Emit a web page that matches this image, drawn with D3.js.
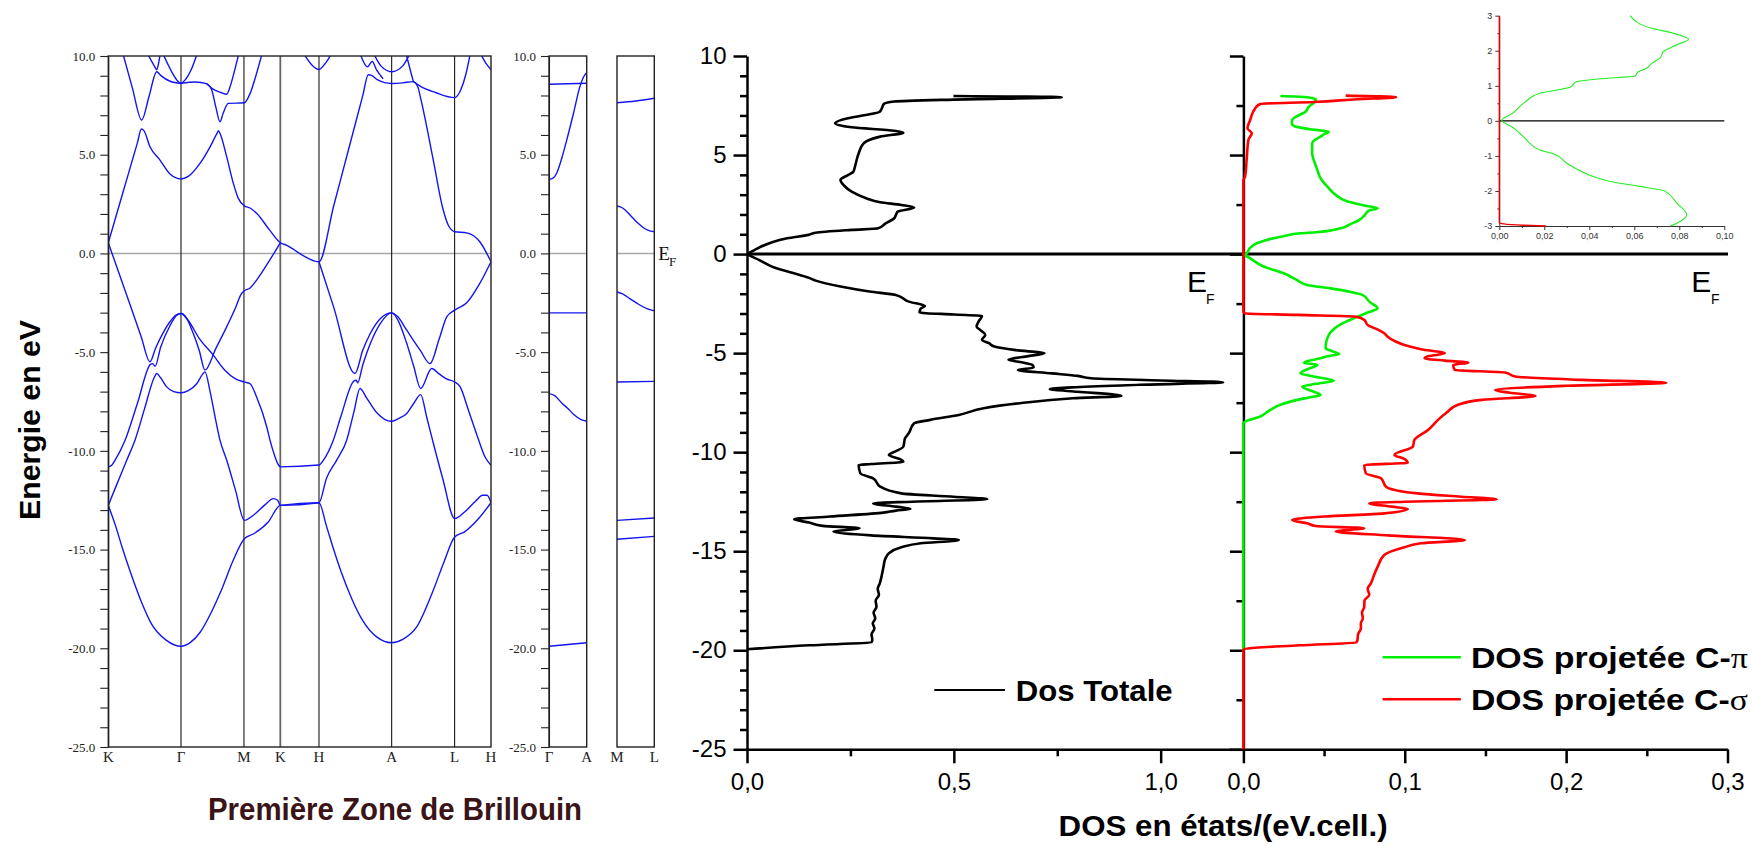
<!DOCTYPE html>
<html><head><meta charset="utf-8">
<script src="https://cdn.jsdelivr.net/npm/d3@7"></script>
<style>body{margin:0;background:#fff}svg{display:block}</style>
</head><body>
<svg id="c" width="1756" height="846"></svg>
<script>
// ================= DATA =================
const kLabels = ["K","Γ","M","K","H","A","L","H"];
const kPos = [0,1,1.866,2.366,2.898,3.898,4.764,5.264];
const gaLabels = ["Γ","A"];
const mlLabels = ["M","L"];
const bandTickValues = d3.range(-25, 10.5, 1);

// bands along K-Γ-M-K-H-A-L-H : [k, E(eV)]
const bandsMain = [
 [[0,0.54],[0.2,3.07],[0.4,5.6],[0.455,6.3],[0.49,6.22],[0.573,5.4],[0.711,4.73],[0.849,4.02],[1.0,3.77],[1.1,3.9],[1.261,4.56],[1.4,5.4],[1.5,6.12],[1.515,6.22],[1.54,6.05],[1.628,4.9],[1.72,3.55],[1.788,2.79],[1.871,2.41],[1.95,2.3],[2.04,2.03],[2.22,1.18],[2.366,0.54],[2.45,0.42],[2.55,0.2],[2.63,0.0],[2.75,-0.25],[2.85,-0.4],[2.898,-0.42],[3.1,2.4],[3.3,5.2],[3.5,7.99],[3.576,9.05],[3.62,9.02],[3.7,8.8],[3.8,8.65],[3.898,8.61],[4.05,8.64],[4.195,8.7],[4.26,8.4],[4.3,7.8],[4.47,4.73],[4.6,2.3],[4.68,1.4],[4.764,1.1],[4.93,1.04],[5.11,0.59],[5.264,-0.42]],
 [[0,0.54],[0.29,-2.5],[0.45,-4.19],[0.574,-5.49],[0.65,-4.8],[0.75,-4.05],[0.85,-3.45],[0.93,-3.12],[1.0,-3.04],[1.08,-3.3],[1.169,-4.06],[1.25,-4.9],[1.33,-5.91],[1.48,-4.81],[1.628,-3.72],[1.75,-2.75],[1.83,-2.05],[1.871,-1.89],[1.95,-1.75],[2.04,-1.35],[2.22,-0.34],[2.366,0.54]],
 [[0,-10.81],[0.05,-10.72],[0.092,-10.48],[0.231,-9.46],[0.4,-7.6],[0.58,-5.62],[0.61,-5.58],[0.643,-5.72],[0.72,-4.75],[0.85,-3.65],[0.93,-3.17],[1.0,-3.04],[1.1,-3.4],[1.25,-4.3],[1.444,-5.15],[1.6,-5.9],[1.75,-6.35],[1.871,-6.51],[1.95,-6.6],[2.04,-7.27],[2.18,-8.79],[2.224,-9.46],[2.293,-10.3],[2.33,-10.65],[2.366,-10.81],[2.898,-10.72],[2.957,-10.48],[3.095,-9.46],[3.2,-8.25],[3.38,-6.45],[3.41,-6.42],[3.43,-6.55],[3.5,-5.65],[3.6,-4.6],[3.75,-3.5],[3.898,-3.01],[3.98,-3.35],[4.1,-4.5],[4.2,-5.7],[4.297,-6.84],[4.448,-5.83],[4.55,-6.1],[4.65,-6.35],[4.764,-6.51],[4.84,-6.76],[4.95,-7.9],[5.08,-9.3],[5.18,-10.3],[5.264,-10.73]],
 [[0,-12.76],[0.1,-11.85],[0.253,-10.48],[0.367,-9.46],[0.5,-7.85],[0.63,-6.3],[0.666,-6.08],[0.72,-6.3],[0.803,-6.76],[0.9,-7.0],[1.0,-7.06],[1.1,-6.95],[1.216,-6.6],[1.3,-6.1],[1.33,-6.0],[1.4,-7.0],[1.47,-8.3],[1.536,-9.46],[1.629,-10.48],[1.75,-12.0],[1.871,-13.52],[2.0,-13.25],[2.15,-12.75],[2.27,-12.42],[2.33,-12.5],[2.366,-12.76],[2.898,-12.63],[3.0,-11.4],[3.14,-10.48],[3.279,-9.46],[3.38,-8.0],[3.462,-6.84],[3.55,-7.3],[3.7,-8.1],[3.8,-8.4],[3.898,-8.5],[4.0,-8.35],[4.105,-8.11],[4.2,-7.6],[4.297,-7.15],[4.38,-8.3],[4.47,-9.6],[4.6,-11.4],[4.764,-13.43],[4.9,-13.1],[5.05,-12.55],[5.15,-12.25],[5.21,-12.25],[5.264,-12.63]],
 [[0,-12.76],[0.1,-13.8],[0.2,-15.0],[0.3,-16.1],[0.45,-17.6],[0.6,-18.8],[0.8,-19.6],[1.0,-19.9],[1.13,-19.7],[1.261,-19.2],[1.4,-18.3],[1.55,-17.1],[1.72,-15.53],[1.871,-14.45],[2.0,-14.2],[2.2,-13.6],[2.366,-12.76],[2.898,-12.63],[3.0,-13.8],[3.1,-15.0],[3.2,-16.1],[3.35,-17.5],[3.5,-18.6],[3.7,-19.45],[3.898,-19.72],[4.05,-19.55],[4.242,-18.92],[4.47,-17.06],[4.62,-15.6],[4.764,-14.36],[4.9,-14.1],[5.1,-13.4],[5.264,-12.63]],
 [[0.206,10.05],[0.33,8.4],[0.459,6.76],[0.56,7.95],[0.666,9.2],[0.72,9.02],[0.85,8.72],[1.0,8.61]],
 [[0.55,10.05],[0.64,9.45],[0.666,9.3],[0.69,9.6],[0.711,10.05]],
 [[0.76,10.05],[0.88,9.15],[0.95,8.75],[1.0,8.62],[1.06,8.8],[1.14,9.3],[1.216,10.05]],
 [[1.0,8.62],[1.2,8.68],[1.35,8.6],[1.43,8.35],[1.55,8.15],[1.628,8.06],[1.68,8.5],[1.74,9.3],[1.79,10.05]],
 [[1.35,8.6],[1.42,8.3],[1.48,7.4],[1.536,6.67],[1.58,7.1],[1.65,7.6],[1.871,7.63],[1.95,8.1],[2.03,9.0],[2.11,10.05]],
 [[2.7,10.05],[2.8,9.55],[2.898,9.32],[2.98,9.6],[3.06,10.05]],
 [[3.66,10.05],[3.75,9.5],[3.898,9.2],[4.05,9.5],[4.14,10.05]],
 [[3.47,10.05],[3.565,9.45],[3.63,9.72],[3.69,9.3],[3.78,8.85]],
 [[4.1,10.05],[4.16,9.2],[4.195,8.72]],
 [[4.195,8.7],[4.3,8.45],[4.5,8.15],[4.764,7.89],[4.85,8.3],[4.92,9.1],[4.975,10.05]],
 [[5.13,10.05],[5.2,9.6],[5.264,9.32]],
 [[2.898,-0.42],[3.1,-2.72],[3.393,-6.08],[3.5,-4.91],[3.6,-4.08],[3.75,-3.27],[3.898,-3.01],[3.98,-3.2],[4.105,-3.89],[4.29,-4.9],[4.425,-5.58],[4.55,-4.35],[4.655,-3.21],[4.764,-2.87],[4.93,-2.5],[5.11,-1.52],[5.264,-0.42]]
];
// Γ-A panel
const bandsGA = [
 [[0,8.57],[1,8.62]],
 [[0,3.75],[0.1,3.8],[0.2,4.05],[0.35,4.9],[0.47,5.74],[0.65,7.1],[0.82,8.45],[0.92,8.95],[1,9.15]],
 [[0,-3.01],[1,-3.01]],
 [[0,-7.1],[0.15,-7.2],[0.35,-7.6],[0.5,-7.85],[0.65,-8.15],[0.85,-8.42],[1,-8.5]],
 [[0,-19.9],[1,-19.72]]
];
// M-L panel
const bandsML = [
 [[0,7.63],[0.5,7.72],[1,7.86]],
 [[0,2.4],[0.15,2.3],[0.35,1.95],[0.55,1.55],[0.75,1.25],[0.9,1.13],[1,1.1]],
 [[0,-1.95],[0.15,-2.05],[0.35,-2.3],[0.6,-2.6],[0.8,-2.8],[1,-2.91]],
 [[0,-6.51],[1,-6.48]],
 [[0,-13.52],[1,-13.4]],
 [[0,-14.48],[1,-14.33]]
];

// DOS : [E(eV), DOS]
const dosTotal = [[7.98,0.499],[7.92,0.761],[7.8,0.5],[7.7,0.356],[7.58,0.331],[7.36,0.326],[7.19,0.321],[7.02,0.287],[6.86,0.244],[6.6,0.213],[6.4,0.253],[6.23,0.356],[6.13,0.378],[5.93,0.322],[5.59,0.282],[5.09,0.27],[4.42,0.261],[4.16,0.257],[4.0,0.245],[3.74,0.226],[3.45,0.235],[3.15,0.253],[2.82,0.288],[2.62,0.322],[2.48,0.373],[2.35,0.404],[2.14,0.364],[1.98,0.36],[1.81,0.356],[1.55,0.335],[1.3,0.317],[1.22,0.253],[1.08,0.166],[0.97,0.149],[0.8,0.097],[0.55,0.054],[0.21,0.019],[0.01,0.003],[-0.3,0.03],[-0.72,0.071],[-0.97,0.114],[-1.2,0.15],[-1.34,0.166],[-1.64,0.226],[-1.89,0.296],[-2.06,0.36],[-2.4,0.391],[-2.62,0.43],[-2.75,0.42],[-2.95,0.417],[-3.05,0.5],[-3.12,0.568],[-3.4,0.56],[-3.66,0.555],[-3.85,0.565],[-4.08,0.576],[-4.33,0.568],[-4.5,0.585],[-4.67,0.598],[-4.85,0.65],[-5.01,0.719],[-5.15,0.68],[-5.34,0.632],[-5.45,0.66],[-5.6,0.69],[-5.73,0.693],[-5.85,0.655],[-6.02,0.737],[-6.15,0.8],[-6.27,0.832],[-6.38,1.0],[-6.47,1.151],[-6.6,0.95],[-6.82,0.732],[-6.95,0.8],[-7.1,0.89],[-7.16,0.905],[-7.28,0.788],[-7.53,0.659],[-7.78,0.572],[-8.12,0.512],[-8.37,0.443],[-8.54,0.404],[-9.05,0.391],[-9.3,0.382],[-9.72,0.378],[-9.95,0.36],[-10.14,0.343],[-10.35,0.37],[-10.48,0.378],[-10.6,0.3],[-10.65,0.27],[-11.07,0.274],[-11.32,0.305],[-11.74,0.322],[-12.08,0.373],[-12.25,0.5],[-12.38,0.581],[-12.5,0.4],[-12.58,0.305],[-12.75,0.36],[-12.87,0.395],[-12.95,0.36],[-13.05,0.33],[-13.25,0.2],[-13.39,0.114],[-13.55,0.15],[-13.72,0.183],[-13.84,0.272],[-13.93,0.24],[-14.01,0.209],[-14.2,0.3],[-14.35,0.45],[-14.43,0.512],[-14.6,0.42],[-14.8,0.373],[-15.1,0.343],[-15.4,0.334],[-15.78,0.33],[-16.2,0.326],[-16.62,0.321],[-16.9,0.316],[-17.2,0.319],[-17.5,0.311],[-17.8,0.313],[-18.1,0.306],[-18.4,0.31],[-18.64,0.304],[-18.9,0.308],[-19.2,0.301],[-19.48,0.303],[-19.6,0.301],[-19.75,0.15],[-19.95,0.0]];

const dosPi = [[7.98,0.0229],[7.92,0.0395],[7.8,0.045],[7.65,0.0437],[7.44,0.0406],[7.19,0.0385],[6.95,0.033],[6.77,0.0302],[6.6,0.03],[6.47,0.0312],[6.3,0.0416],[6.18,0.053],[6.05,0.05],[5.93,0.0478],[5.75,0.044],[5.59,0.0426],[5.09,0.0426],[4.65,0.044],[4.25,0.0458],[3.8,0.048],[3.41,0.052],[3.0,0.057],[2.65,0.0645],[2.45,0.075],[2.31,0.0832],[2.2,0.078],[1.95,0.075],[1.72,0.0717],[1.5,0.066],[1.3,0.0603],[1.1,0.045],[1.05,0.0353],[0.9,0.025],[0.8,0.0187],[0.55,0.0083],[0.3,0.004],[0.04,0.0021],[-0.04,0.001],[-0.2,0.004],[-0.63,0.0125],[-0.97,0.025],[-1.3,0.033],[-1.56,0.0395],[-1.73,0.054],[-1.9,0.066],[-2.06,0.0738],[-2.4,0.078],[-2.74,0.0832],[-2.95,0.077],[-3.16,0.0707],[-3.4,0.064],[-3.66,0.058],[-3.95,0.054],[-4.25,0.052],[-4.5,0.0512],[-4.75,0.051],[-4.9,0.055],[-5.04,0.0593],[-5.15,0.053],[-5.26,0.0478],[-5.48,0.0375],[-5.6,0.0458],[-5.8,0.04],[-6.02,0.0354],[-6.2,0.045],[-6.39,0.056],[-6.55,0.045],[-6.69,0.0364],[-6.9,0.042],[-7.11,0.0478],[-7.25,0.04],[-7.36,0.0333],[-7.61,0.0229],[-7.9,0.016],[-8.2,0.0104],[-8.46,0.001],[-8.54,0],[-20,0]];

const dosSigma = [[8.0,0.0634],[7.92,0.0946],[7.82,0.0707],[7.68,0.0437],[7.58,0.0104],[7.36,0.0073],[6.77,0.0042],[6.35,0.0025],[6.1,0.0052],[5.76,0.0031],[4.75,0.002],[3.91,0.001],[3.74,0],[-2.9,0],[-2.99,0.001],[-3.07,0.0333],[-3.16,0.07],[-3.32,0.0749],[-3.58,0.077],[-3.8,0.083],[-4.0,0.0873],[-4.17,0.0894],[-4.4,0.094],[-4.59,0.0998],[-4.8,0.11],[-5.01,0.1248],[-5.15,0.115],[-5.26,0.1123],[-5.38,0.125],[-5.48,0.1394],[-5.6,0.13],[-5.85,0.131],[-5.98,0.1622],[-6.18,0.1684],[-6.35,0.21],[-6.49,0.262],[-6.65,0.2],[-6.86,0.156],[-7.0,0.165],[-7.16,0.181],[-7.36,0.1477],[-7.61,0.133],[-8.0,0.126],[-8.37,0.1206],[-8.88,0.1144],[-9.38,0.106],[-9.72,0.105],[-10.14,0.0936],[-10.35,0.1],[-10.53,0.1019],[-10.65,0.0749],[-11.07,0.0759],[-11.32,0.0853],[-11.74,0.0884],[-12.08,0.108],[-12.25,0.135],[-12.38,0.157],[-12.5,0.1],[-12.58,0.078],[-12.75,0.092],[-12.87,0.1019],[-13.09,0.0873],[-13.25,0.05],[-13.42,0.0302],[-13.6,0.04],[-13.73,0.0447],[-13.84,0.0749],[-14.01,0.0572],[-14.2,0.09],[-14.43,0.1373],[-14.6,0.11],[-14.8,0.0998],[-15.19,0.0873],[-15.78,0.0832],[-16.2,0.081],[-16.62,0.079],[-16.9,0.077],[-17.2,0.078],[-17.5,0.075],[-17.8,0.0749],[-18.1,0.0735],[-18.4,0.074],[-18.64,0.0728],[-18.9,0.0728],[-19.2,0.071],[-19.48,0.0707],[-19.6,0.07],[-19.75,0.035],[-19.95,0],[-25,0]];

// inset (zoom around E_F)
const insetPi = [[3.0,0.0581],[2.65,0.0673],[2.5,0.0773],[2.33,0.0841],[2.17,0.0789],[1.98,0.073],[1.79,0.0714],[1.64,0.0677],[1.5,0.0655],[1.4,0.0618],[1.28,0.0603],[1.2,0.0447],[1.12,0.0344],[0.96,0.0314],[0.88,0.0255],[0.79,0.0181],[0.5,0.0107],[0.17,0.0048],[0.07,0.0018],[0.0,0.0011],[-0.07,0.0026],[-0.14,0.0048],[-0.45,0.0107],[-0.83,0.0181],[-0.94,0.024],[-1.21,0.03],[-1.59,0.0418],[-1.73,0.0492],[-1.87,0.0625],[-1.99,0.073],[-2.04,0.0744],[-2.35,0.0789],[-2.68,0.0833],[-2.87,0.0804],[-3.0,0.076]];
const insetSigma = [[3.0,0],[-2.9,0],[-2.94,0.002],[-2.98,0.0108],[-3.0,0.0207]];

const dosTicks1 = [0,0.5,1.0], dosMinor1 = [0.25,0.75];
const dosTicks2 = [0,0.1,0.2,0.3], dosMinor2 = [0.05,0.15,0.25];
const eTicks = [-25,-20,-15,-10,-5,0,5,10];
const insetXTicks = [0,0.02,0.04,0.06,0.08,0.1];
const insetYTicks = [-3,-2,-1,0,1,2,3];

// ================= DRAW =================
const svg = d3.select("#c");
const serif = "'Liberation Serif','Times New Roman',Times,serif";
const sans = "'Liberation Sans',Arial,Helvetica,sans-serif";
const locEn = d3.formatLocale({decimal:".",thousands:",",grouping:[3],currency:["",""],minus:"-"});
const locFr = d3.formatLocale({decimal:",",thousands:" ",grouping:[3],currency:["",""],minus:"-"});
const BLUE = "#1414f0";

function styleAxis(g, sw, fs, ff, col){
  col = col || "#000";
  g.attr("font-family", ff).attr("font-size", fs);
  g.select(".domain").attr("stroke", col).attr("stroke-width", sw);
  g.selectAll(".tick line").attr("stroke", col).attr("stroke-width", sw);
  g.selectAll(".tick text").attr("fill", col);
}

// ---------- band structure ----------
const yB = d3.scaleLinear().domain([-25,10]).range([747,56]);
const xB = d3.scaleLinear().domain([0,5.264]).range([108.3,491]);
const xGA = d3.scaleLinear().domain([0,1]).range([549,586.7]);
const xML = d3.scaleLinear().domain([0,1]).range([617,654.3]);

const defs = svg.append("defs");
function bandPanel(xs, bands, id, vlines, withAxis, labels, labelPos){
  const [x0,x1] = xs.range();
  defs.append("clipPath").attr("id", id).append("rect")
    .attr("x", x0).attr("y", yB(10)).attr("width", x1-x0).attr("height", yB(-25)-yB(10));
  const g = svg.append("g");
  g.append("line").attr("x1",x0).attr("x2",x1).attr("y1",yB(0)).attr("y2",yB(0))
    .attr("stroke","#a8a8a8").attr("stroke-width",1.6);
  vlines.forEach((k,i)=>{
    g.append("line").attr("x1",xs(k)).attr("x2",xs(k)).attr("y1",yB(10)).attr("y2",yB(-25))
      .attr("stroke", i===2 ? "#666" : "#000").attr("stroke-width", i===2 ? 1.8 : 1);
  });
  const line = d3.line().x(d=>xs(d[0])).y(d=>yB(d[1])).curve(d3.curveMonotoneX);
  g.append("g").attr("clip-path",`url(#${id})`).selectAll("path").data(bands).join("path")
    .attr("d", line).attr("fill","none").attr("stroke",BLUE).attr("stroke-width",1.4);
  g.append("rect").attr("x",x0).attr("y",yB(10)).attr("width",x1-x0).attr("height",yB(-25)-yB(10))
    .attr("fill","none").attr("stroke","#222").attr("stroke-width",1.4);
  if (withAxis){
    const ax = g.append("g").attr("transform",`translate(${x0},0)`)
      .call(d3.axisLeft(yB).tickValues(bandTickValues).tickSize(8).tickPadding(5).tickSizeOuter(0)
        .tickFormat(d => (d % 5 === 0) ? locEn.format(".1f")(d) : ""));
    styleAxis(ax, 1.1, 13, serif, "#222");
  }
  labels.forEach((t,i)=>{
    g.append("text").attr("x", xs(labelPos[i])).attr("y", 762).attr("text-anchor","middle")
      .attr("font-family", serif).attr("font-size", 15).attr("fill","#222").text(t);
  });
}
bandPanel(xB, bandsMain, "clipMain", kPos.slice(1,7), true, kLabels, kPos);
bandPanel(xGA, bandsGA, "clipGA", [], true, gaLabels, [0,1]);
bandPanel(xML, bandsML, "clipML", [], false, mlLabels, [0,1]);

svg.append("text").attr("x",658.3).attr("y",260).attr("font-family",serif).attr("font-size",19).attr("fill","#111").text("E");
svg.append("text").attr("x",669).attr("y",266).attr("font-family",serif).attr("font-size",13).attr("fill","#111").text("F");

svg.append("text").attr("transform","translate(39.5,420) rotate(-90)").attr("text-anchor","middle")
  .attr("font-family",sans).attr("font-weight","bold").attr("font-size",30)
  .attr("textLength",200).attr("lengthAdjust","spacingAndGlyphs").attr("fill","#000").text("Energie en eV");
svg.append("text").attr("x",208).attr("y",820)
  .attr("font-family",sans).attr("font-weight","bold").attr("font-size",32)
  .attr("textLength",374).attr("lengthAdjust","spacingAndGlyphs").attr("fill","#3a1416").text("Première Zone de Brillouin");

// ---------- DOS ----------
const yD = d3.scaleLinear().domain([-25,10]).range([749.3,56]);
const xD1 = d3.scaleLinear().domain([0,1.2]).range([747,1243.4]);
const xD2 = d3.scaleLinear().domain([0,0.3]).range([1243.4,1727.5]);
const fr1 = locFr.format(".1f");

let a;
a = svg.append("g").attr("transform","translate(747,0)")
  .call(d3.axisLeft(yD).tickValues(eTicks).tickSize(13.5).tickPadding(7).tickSizeOuter(0).tickFormat(locEn.format("d")));
styleAxis(a, 2.5, 24, sans);
a = svg.append("g").attr("transform","translate(747,0)")
  .call(d3.axisLeft(yD).tickValues(d3.range(-25,10,1).filter(d=>d%5!==0)).tickSize(7).tickFormat(""));
a.select(".domain").remove(); styleAxis(a, 2.5, 24, sans);
a = svg.append("g").attr("transform","translate(1243.4,0)")
  .call(d3.axisLeft(yD).tickValues(eTicks).tickSize(13.5).tickSizeOuter(0).tickFormat(""));
styleAxis(a, 2.5, 24, sans);
a = svg.append("g").attr("transform","translate(1243.4,0)")
  .call(d3.axisLeft(yD).tickValues(d3.range(-22.5,10,5)).tickSize(7).tickFormat(""));
a.select(".domain").remove(); styleAxis(a, 2.5, 24, sans);
a = svg.append("g").attr("transform","translate(0,749.3)")
  .call(d3.axisBottom(xD1).tickValues(dosTicks1).tickSize(14).tickPadding(10).tickSizeOuter(0).tickFormat(fr1));
styleAxis(a, 2.5, 24, sans);
a = svg.append("g").attr("transform","translate(0,749.3)")
  .call(d3.axisBottom(xD1).tickValues(dosMinor1).tickSize(7).tickFormat(""));
a.select(".domain").remove(); styleAxis(a, 2.5, 24, sans);
a = svg.append("g").attr("transform","translate(0,749.3)")
  .call(d3.axisBottom(xD2).tickValues(dosTicks2).tickSize(14).tickPadding(10).tickSizeOuter(0).tickFormat(fr1));
styleAxis(a, 2.5, 24, sans);
a = svg.append("g").attr("transform","translate(0,749.3)")
  .call(d3.axisBottom(xD2).tickValues(dosMinor2).tickSize(7).tickFormat(""));
a.select(".domain").remove(); styleAxis(a, 2.5, 24, sans);

svg.append("line").attr("x1",747).attr("x2",1728).attr("y1",yD(0)).attr("y2",yD(0))
  .attr("stroke","#000").attr("stroke-width",3);

const lineDOS = xs => d3.line().x(d=>xs(d[1])).y(d=>yD(d[0])).curve(d3.curveMonotoneY);
svg.append("path").datum(dosTotal).attr("d", lineDOS(xD1)).attr("fill","none").attr("stroke","#000").attr("stroke-width",2.6).attr("stroke-linejoin","round");
svg.append("path").datum(dosPi).attr("d", lineDOS(xD2)).attr("fill","none").attr("stroke","#00ee00").attr("stroke-width",2.6).attr("stroke-linejoin","round");
svg.append("path").datum(dosSigma).attr("d", lineDOS(xD2)).attr("fill","none").attr("stroke","#ff0000").attr("stroke-width",2.6).attr("stroke-linejoin","round");

[[1187,1206],[1691.3,1711]].forEach(p=>{
  svg.append("text").attr("x",p[0]).attr("y",291.7).attr("font-family",sans).attr("font-size",30).attr("fill","#000").text("E");
  svg.append("text").attr("x",p[1]).attr("y",303.5).attr("font-family",sans).attr("font-size",14).attr("fill","#000").text("F");
});

svg.append("text").attr("x",1058.6).attr("y",836).attr("font-family",sans).attr("font-weight","bold")
  .attr("font-size",29).attr("textLength",329).attr("lengthAdjust","spacingAndGlyphs").text("DOS en états/(eV.cell.)");

svg.append("line").attr("x1",934.3).attr("x2",1005).attr("y1",690).attr("y2",690).attr("stroke","#000").attr("stroke-width",2.2);
svg.append("text").attr("x",1015.7).attr("y",700.7).attr("font-family",sans).attr("font-weight","bold")
  .attr("font-size",29).attr("textLength",157).attr("lengthAdjust","spacingAndGlyphs").text("Dos Totale");
[["#00ee00",657.3,668,"π"],["#ff0000",699.3,710,"σ"]].forEach(r=>{
  svg.append("line").attr("x1",1382.6).attr("x2",1460.8).attr("y1",r[1]).attr("y2",r[1]).attr("stroke",r[0]).attr("stroke-width",2.4);
  const t = svg.append("text").attr("x",1470.9).attr("y",r[2]).attr("font-family",sans).attr("font-weight","bold")
    .attr("font-size",30).attr("textLength",277).attr("lengthAdjust","spacingAndGlyphs");
  t.append("tspan").text("DOS projetée C-");
  t.append("tspan").attr("font-family",serif).attr("font-weight","normal").text(r[3]);
});

// ---------- inset ----------
const xI = d3.scaleLinear().domain([0,0.1]).range([1499.3,1724.3]);
const yI = d3.scaleLinear().domain([-3,3]).range([226,15.7]);
a = svg.append("g").attr("transform","translate(1499.3,0)")
  .call(d3.axisLeft(yI).tickValues(insetYTicks).tickSize(4).tickPadding(3).tickSizeOuter(0).tickFormat(locEn.format("d")));
styleAxis(a, 1, 9, sans, "#333");
a = svg.append("g").attr("transform","translate(1499.3,0)")
  .call(d3.axisLeft(yI).tickValues(d3.range(-2.5,3,1)).tickSize(2).tickFormat(""));
a.select(".domain").remove(); styleAxis(a, 1, 9, sans, "#333");
a = svg.append("g").attr("transform","translate(0,226)")
  .call(d3.axisBottom(xI).tickValues(insetXTicks).tickSize(4).tickPadding(3).tickSizeOuter(0).tickFormat(locFr.format(".2f")));
styleAxis(a, 1, 9, sans, "#333");
a = svg.append("g").attr("transform","translate(0,226)")
  .call(d3.axisBottom(xI).tickValues(d3.range(0.01,0.1,0.02)).tickSize(2).tickFormat(""));
a.select(".domain").remove(); styleAxis(a, 1, 9, sans, "#333");
svg.append("line").attr("x1",1499.3).attr("x2",1724.3).attr("y1",yI(0)).attr("y2",yI(0)).attr("stroke","#000").attr("stroke-width",1.3);
const lineI = d3.line().x(d=>xI(d[1])).y(d=>yI(d[0])).curve(d3.curveMonotoneY);
svg.append("path").datum(insetPi).attr("d",lineI).attr("fill","none").attr("stroke","#22ee22").attr("stroke-width",1.1);
svg.append("path").datum(insetSigma).attr("d",lineI).attr("fill","none").attr("stroke","#ee0000").attr("stroke-width",1.4);
</script>
</body></html>
